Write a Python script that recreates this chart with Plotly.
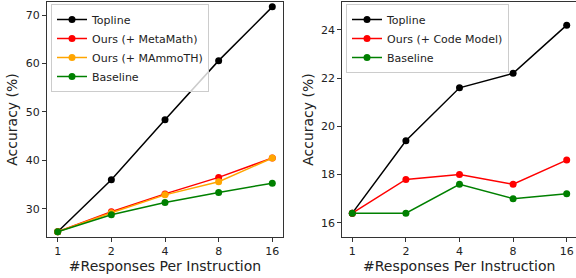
import plotly.graph_objects as go
import math

W, H = 576, 278

x_vals = [1, 2, 4, 8, 16]
x_labels = ["1", "2", "4", "8", "16"]

# Left panel (math)
left_topline = [25.3, 36.0, 48.4, 60.6, 71.7]
left_metamath = [25.3, 29.4, 33.1, 36.5, 40.5]
left_mammoth = [25.3, 29.2, 32.9, 35.6, 40.5]
left_baseline = [25.3, 28.8, 31.3, 33.4, 35.3]

# Right panel (code)
right_topline = [16.4, 19.4, 21.6, 22.2, 24.2]
right_code = [16.4, 17.8, 18.0, 17.6, 18.6]
right_baseline = [16.4, 16.4, 17.6, 17.0, 17.2]

BLACK, RED, ORANGE, GREEN = "#000000", "#ff0000", "#ffa500", "#008000"
FONT = "DejaVu Sans"

fig = go.Figure()

def add(x, y, name, color, xa, ya, legend):
    fig.add_trace(go.Scatter(
        x=x, y=y, name=name, mode="lines+markers",
        line=dict(color=color, width=1.5),
        marker=dict(color=color, size=7),
        xaxis=xa, yaxis=ya, legend=legend,
    ))

add(x_vals, left_topline, "Topline", BLACK, "x", "y", "legend")
add(x_vals, left_metamath, "Ours (+ MetaMath)", RED, "x", "y", "legend")
add(x_vals, left_mammoth, "Ours (+ MAmmoTH)", ORANGE, "x", "y", "legend")
add(x_vals, left_baseline, "Baseline", GREEN, "x", "y", "legend")

add(x_vals, right_topline, "Topline", BLACK, "x2", "y2", "legend2")
add(x_vals, right_code, "Ours (+ Code Model)", RED, "x2", "y2", "legend2")
add(x_vals, right_baseline, "Baseline", GREEN, "x2", "y2", "legend2")

L2 = math.log10(2)

def xpx(px):
    return px / W

ydom = [1 - 237 / H, 1 - 2 / H]

axis_common = dict(
    showline=True, linecolor="#333333", linewidth=1, mirror=True,
    ticks="outside", ticklen=4, tickcolor="#333333", tickwidth=1,
    showgrid=False, zeroline=False, automargin=False,
    tickfont=dict(family=FONT, size=11, color="#222222"),
)

# left x axis: frame 47..283, ticks 1 at 57.7, 16 at 272.3
lx0, lx1 = 47, 283
l_tick1 = 57.7
l_ppu = (272.3 - 57.7) / 4
lrange = [(lx0 - l_tick1) / l_ppu * L2, (lx1 - l_tick1) / l_ppu * L2]

# right x axis: frame 342.3..576, tick1 at 352.3, 16 at 566.7
rx0, rx1 = 342.3, 576
r_tick1 = 352.3
r_ppu = (566.7 - 352.3) / 4
rrange = [(rx0 - r_tick1) / r_ppu * L2, (rx1 - r_tick1) / r_ppu * L2]

title_font = dict(family=FONT, size=14, color="#222222")

legend_common = dict(
    yanchor="top", xanchor="left",
    bgcolor="rgba(255,255,255,0.8)", bordercolor="#cccccc", borderwidth=1,
    font=dict(family=FONT, size=11, color="#222222"),
    tracegroupgap=0, itemwidth=30,
)

fig.update_layout(
    width=W, height=H,
    margin=dict(l=0, r=0, t=0, b=0, autoexpand=False),
    paper_bgcolor="white", plot_bgcolor="white",
    xaxis=dict(axis_common, type="log", domain=[xpx(lx0), xpx(lx1)], range=lrange,
               tickvals=x_vals, ticktext=x_labels, anchor="y",
               title=dict(text="#Responses Per Instruction", font=title_font, standoff=2)),
    yaxis=dict(axis_common, domain=ydom, range=[24.2, 72.7], tickvals=[30, 40, 50, 60, 70],
               anchor="x",
               title=dict(text="Accuracy (%)", font=title_font, standoff=4)),
    xaxis2=dict(axis_common, type="log", domain=[xpx(rx0), xpx(rx1)], range=rrange,
                tickvals=x_vals, ticktext=x_labels, anchor="y2",
                title=dict(text="#Responses Per Instruction", font=title_font, standoff=2)),
    yaxis2=dict(axis_common, domain=ydom, range=[15.41, 25.16], tickvals=[16, 18, 20, 22, 24],
                anchor="x2",
                title=dict(text="Accuracy (%)", font=title_font, standoff=4)),
    legend=dict(legend_common, x=51 / W, y=1 - 4 / H),
    legend2=dict(legend_common, x=346 / W, y=1 - 4 / H),
    showlegend=True,
)

fig.write_html(
    "out.html",
    config={"displayModeBar": False},
    post_script="document.body.style.margin='0';document.body.style.overflow='hidden';",
)
